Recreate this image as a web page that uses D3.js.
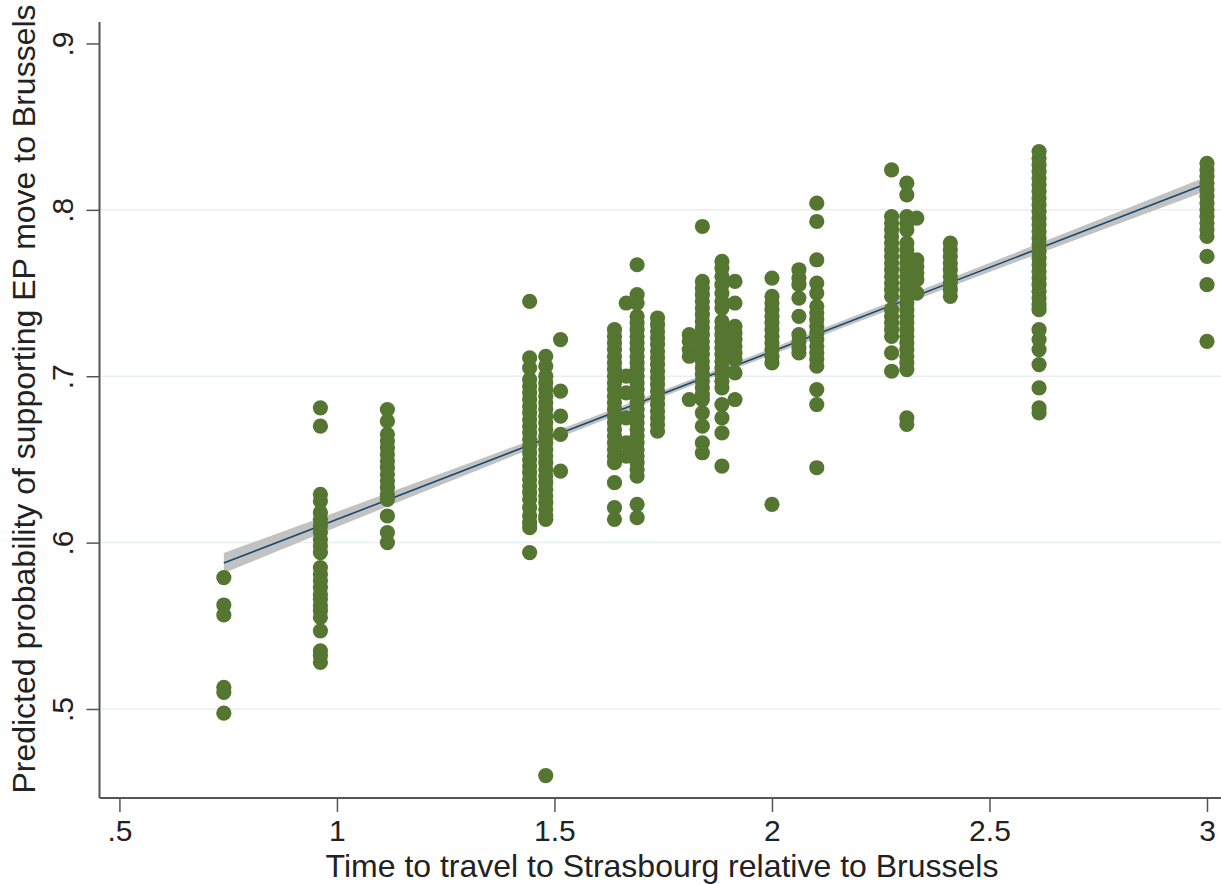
<!DOCTYPE html>
<html>
<head>
<meta charset="utf-8">
<script src="https://cdn.jsdelivr.net/npm/d3@7"></script>
<style>
  html, body { margin: 0; padding: 0; background: #fff; }
  svg { display: block; font-family: "Liberation Sans", Arial, Helvetica, sans-serif; }
</style>
</head>
<body>
<svg id="chart" width="1221" height="884"></svg>
<script>
// Travel-time columns (x) and the predicted probabilities read at each one (y).
const travelTimes = [0.74, 0.962, 1.116, 1.443, 1.48, 1.514, 1.638, 1.665, 1.69, 1.737,
  1.81, 1.84, 1.885, 1.915, 2.0, 2.062, 2.103, 2.275, 2.31, 2.333, 2.41, 2.614, 3.0];

const probs = [
  [0.579, 0.5625, 0.5565, 0.513, 0.510, 0.4975],
  [0.681, 0.670, 0.629, 0.625, 0.618, 0.614, 0.610, 0.606, 0.602, 0.598, 0.594, 0.585, 0.581,
    0.577, 0.573, 0.569, 0.566, 0.562, 0.559, 0.555, 0.547, 0.535, 0.532, 0.528],
  [0.680, 0.673, 0.665, 0.661, 0.657, 0.653, 0.649, 0.645, 0.641, 0.637, 0.633, 0.629, 0.626,
    0.616, 0.606, 0.600],
  [0.745, 0.711, 0.705, 0.698, 0.694, 0.690, 0.686, 0.682, 0.678, 0.674, 0.670, 0.666, 0.662,
    0.658, 0.654, 0.650, 0.646, 0.642, 0.638, 0.634, 0.630, 0.626, 0.621, 0.616, 0.612, 0.609, 0.594],
  [0.712, 0.706, 0.700, 0.696, 0.692, 0.688, 0.684, 0.680, 0.676, 0.672, 0.668, 0.664, 0.660,
    0.656, 0.652, 0.648, 0.644, 0.640, 0.636, 0.632, 0.628, 0.624, 0.620, 0.616, 0.614, 0.46],
  [0.722, 0.691, 0.676, 0.665, 0.643],
  [0.728, 0.724, 0.720, 0.716, 0.712, 0.708, 0.704, 0.700, 0.696, 0.692, 0.688, 0.684, 0.680,
    0.676, 0.672, 0.668, 0.664, 0.660, 0.656, 0.652, 0.648, 0.636, 0.621, 0.614],
  [0.744, 0.700, 0.690, 0.675, 0.660, 0.652],
  [0.767, 0.749, 0.744, 0.736, 0.732, 0.728, 0.724, 0.720, 0.716, 0.712, 0.708, 0.704, 0.700,
    0.696, 0.692, 0.688, 0.684, 0.680, 0.676, 0.672, 0.668, 0.664, 0.660, 0.656, 0.652, 0.648,
    0.644, 0.640, 0.623, 0.615],
  [0.735, 0.731, 0.727, 0.723, 0.719, 0.715, 0.711, 0.707, 0.703, 0.699, 0.695, 0.691, 0.687,
    0.683, 0.679, 0.675, 0.671, 0.667],
  [0.725, 0.721, 0.716, 0.712, 0.686],
  [0.790, 0.757, 0.753, 0.749, 0.745, 0.741, 0.737, 0.733, 0.729, 0.725, 0.721, 0.717, 0.713,
    0.709, 0.705, 0.701, 0.697, 0.693, 0.689, 0.686, 0.678, 0.670, 0.660, 0.654],
  [0.769, 0.765, 0.760, 0.755, 0.750, 0.745, 0.741, 0.733, 0.729, 0.725, 0.721, 0.717, 0.713,
    0.709, 0.705, 0.701, 0.697, 0.693, 0.683, 0.675, 0.666, 0.646],
  [0.757, 0.744, 0.730, 0.726, 0.722, 0.718, 0.714, 0.710, 0.702, 0.686],
  [0.759, 0.748, 0.744, 0.740, 0.736, 0.732, 0.728, 0.724, 0.720, 0.716, 0.712, 0.708, 0.623],
  [0.764, 0.759, 0.755, 0.747, 0.736, 0.725, 0.721, 0.717, 0.714],
  [0.804, 0.793, 0.770, 0.756, 0.750, 0.742, 0.738, 0.734, 0.730, 0.726, 0.722, 0.718, 0.714,
    0.710, 0.706, 0.692, 0.683, 0.645],
  [0.824, 0.796, 0.792, 0.788, 0.784, 0.780, 0.776, 0.772, 0.768, 0.764, 0.760, 0.756, 0.752,
    0.748, 0.740, 0.736, 0.732, 0.728, 0.724, 0.714, 0.703],
  [0.816, 0.809, 0.796, 0.792, 0.788, 0.780, 0.776, 0.772, 0.768, 0.764, 0.760, 0.756, 0.752,
    0.748, 0.744, 0.740, 0.736, 0.732, 0.728, 0.724, 0.720, 0.716, 0.712, 0.708, 0.704, 0.675, 0.671],
  [0.795, 0.770, 0.766, 0.762, 0.758, 0.750],
  [0.780, 0.776, 0.772, 0.768, 0.764, 0.760, 0.756, 0.752, 0.748],
  [0.835, 0.831, 0.827, 0.823, 0.819, 0.815, 0.811, 0.807, 0.803, 0.799, 0.795, 0.791, 0.787,
    0.783, 0.779, 0.775, 0.771, 0.767, 0.763, 0.759, 0.755, 0.751, 0.747, 0.743, 0.740, 0.728,
    0.722, 0.716, 0.707, 0.693, 0.681, 0.678],
  [0.828, 0.824, 0.820, 0.816, 0.812, 0.808, 0.804, 0.800, 0.796, 0.792, 0.788, 0.784, 0.772,
    0.755, 0.721]
];

// Fitted line (end points) and half-width of its confidence band.
const fitX = [0.74, 3.0];
const fitY = [0.5877, 0.8158];
const ciX = [0.74, 1.2, 1.7, 2.2, 2.6, 3.0];
const ciHalf = [0.006, 0.0036, 0.002, 0.0022, 0.003, 0.0043];

const xTicks = [0.5, 1, 1.5, 2, 2.5, 3];
const yTicks = [0.5, 0.6, 0.7, 0.8, 0.9];
const gridTicks = [0.5, 0.6, 0.7, 0.8];

const svg = d3.select("#chart");
const margin = { left: 99.5, right: 1221, top: 22, bottom: 798 };

const x = d3.scaleLinear().domain([0.4542, 3.0322]).range([margin.left, margin.right]);
const y = d3.scaleLinear().domain([0.4465, 0.9129]).range([margin.bottom, margin.top]);

const fmt = d => d3.format(".1f")(d).replace(/^0\./, ".").replace(/\.0$/, "");

// Grid lines.
svg.append("g")
    .selectAll("line")
    .data(gridTicks)
    .join("line")
    .attr("x1", margin.left).attr("x2", margin.right)
    .attr("y1", d => y(d)).attr("y2", d => y(d))
    .attr("stroke", "#e7f0f0")
    .attr("stroke-width", 1.5);

// Confidence band and fitted line.
const fit = d3.scaleLinear().domain(fitX).range(fitY);
const band = ciX.map((v, i) => ({ x: v, lo: fit(v) - ciHalf[i], hi: fit(v) + ciHalf[i] }));

svg.append("path")
    .datum(band)
    .attr("fill", "#c2c2c2")
    .attr("d", d3.area()
        .curve(d3.curveMonotoneX)
        .x(d => x(d.x))
        .y0(d => y(d.lo))
        .y1(d => y(d.hi)));

svg.append("path")
    .datum(fitX.map((v, i) => [v, fitY[i]]))
    .attr("fill", "none")
    .attr("stroke", "#1a476f")
    .attr("stroke-width", 1.6)
    .attr("d", d3.line().x(d => x(d[0])).y(d => y(d[1])));

// Scatter points.
const points = travelTimes.flatMap((t, i) => probs[i].map(p => ({ t, p })));
svg.append("g")
    .selectAll("circle")
    .data(points)
    .join("circle")
    .attr("cx", d => x(d.t))
    .attr("cy", d => y(d.p))
    .attr("r", 7.6)
    .attr("fill", "#557630");

// Axes.
const axisColor = "#555";
const xAxis = svg.append("g")
    .attr("transform", `translate(0,${margin.bottom})`)
    .call(d3.axisBottom(x).tickValues(xTicks).tickFormat(fmt).tickSize(14).tickPadding(8));
const yAxis = svg.append("g")
    .attr("transform", `translate(${margin.left},0)`)
    .call(d3.axisLeft(y).tickValues(yTicks).tickFormat(fmt).tickSize(13).tickPadding(0));

[xAxis, yAxis].forEach(g => {
    g.select(".domain").attr("stroke", axisColor).attr("stroke-width", 2);
    g.selectAll(".tick line").attr("stroke", axisColor).attr("stroke-width", 1.5);
    g.selectAll("text")
        .attr("fill", "#222")
        .style("font-size", "30px")
        .style("font-family", "'Liberation Sans', Arial, sans-serif");
});

xAxis.select(".domain").attr("d", `M${margin.left},0H${margin.right}`);
yAxis.select(".domain").attr("d", `M0,${margin.top}V${margin.bottom}`);

// Rotated y tick labels, like the original.
yAxis.selectAll(".tick text")
    .attr("x", null).attr("dy", null)
    .attr("text-anchor", "middle")
    .attr("transform", "translate(-27,0) rotate(-90)");

// Axis titles.
svg.append("text")
    .attr("x", 662)
    .attr("y", 877)
    .attr("text-anchor", "middle")
    .attr("fill", "#222")
    .style("font-size", "32px")
    .text("Time to travel to Strasbourg relative to Brussels");

svg.append("text")
    .attr("transform", "translate(35,399) rotate(-90)")
    .attr("text-anchor", "middle")
    .attr("fill", "#222")
    .style("font-size", "32px")
    .text("Predicted probability of supporting EP move to Brussels");
</script>
</body>
</html>
